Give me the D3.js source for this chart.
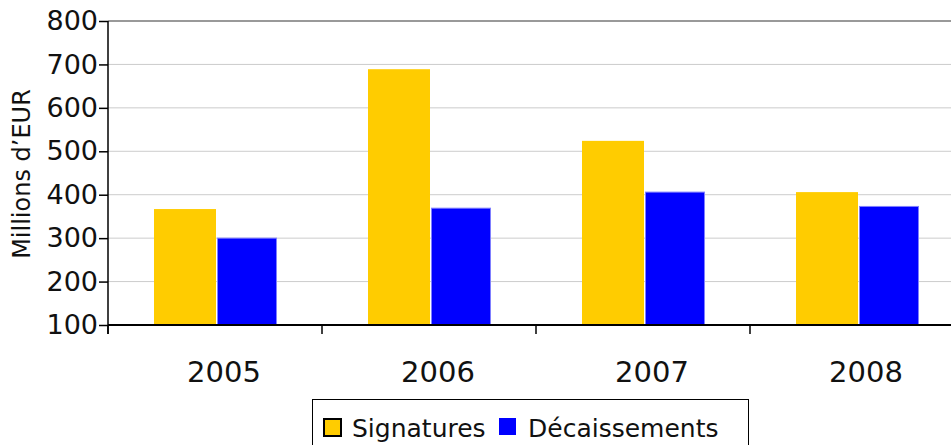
<!DOCTYPE html>
<html><head><meta charset="utf-8">
<script src="https://cdn.jsdelivr.net/npm/d3@7/dist/d3.min.js"></script>
<style>body{margin:0;background:#fff;}svg{display:block;font-family:"DejaVu Sans",sans-serif;}</style>
</head><body>
<svg id="c" width="951" height="445"></svg>
<script>
const years = ["2005","2006","2007","2008"];
const seriesNames = ["Signatures","Décaissements"];
const signatures = [367, 689, 524, 406];
const decaissements = [300, 369, 406, 373];
const yTicks = [100,200,300,400,500,600,700,800];
const colors = ["#FFCC00","#0000FF"];

const svg = d3.select("#c");
const pLeft=108, pRight=964, pTop=21, pBottom=325;
const y = d3.scaleLinear().domain([100,800]).range([pBottom, pTop]);
const x0 = d3.scaleBand().domain(years).range([pLeft,pRight]).padding(0);
const x1 = d3.scaleBand().domain(seriesNames).range([46,170]).padding(0);

// gridlines
svg.append("g").selectAll("line").data(yTicks.filter(d=>d>100)).join("line")
  .attr("x1",pLeft).attr("x2",pRight).attr("y1",d=>y(d)).attr("y2",d=>y(d))
  .attr("stroke",d=>d===800?"#999":"#cccccc").attr("stroke-width",d=>d===800?2:1);

const data = years.map((yr,i)=>({yr, vals:[signatures[i], decaissements[i]]}));
const g = svg.append("g").selectAll("g").data(data).join("g")
  .attr("transform",d=>`translate(${x0(d.yr)},0)`);
g.selectAll("rect").data(d=>d.vals.map((v,j)=>({v,j}))).join("rect")
  .attr("x",d=>x1(seriesNames[d.j]) + (d.j===1?1.5:0))
  .attr("width",d=>x1.bandwidth() - (d.j===1?3:0))
  .attr("y",d=>y(d.v))
  .attr("height",d=>pBottom - y(d.v))
  .attr("fill",d=>colors[d.j])
  .attr("stroke",d=>d.j===1?"#7f7fff":"none")
  .attr("stroke-width",1);

// y axis
const ya = svg.append("g").attr("transform",`translate(${pLeft},0)`)
  .call(d3.axisLeft(y).tickValues(yTicks).tickSize(9).tickPadding(1));
ya.select(".domain").remove();
ya.selectAll("line").attr("stroke","#000").attr("stroke-width",1.5);
ya.selectAll("text").attr("font-size",27).attr("font-family","DejaVu Sans").attr("fill","#111");
svg.append("line").attr("x1",pLeft).attr("x2",pLeft).attr("y1",pTop).attr("y2",pBottom+9)
  .attr("stroke","#000").attr("stroke-width",1.5);

// x axis
const xa = svg.append("g").attr("transform",`translate(0,${pBottom})`)
  .call(d3.axisBottom(x0).tickSize(0).tickPadding(0));
xa.select(".domain").remove();
xa.selectAll("text").attr("font-size",29).attr("font-family","DejaVu Sans").attr("fill","#111")
  .attr("dx",9).attr("dy",0).attr("y",57);
svg.append("line").attr("x1",pLeft).attr("x2",pRight).attr("y1",pBottom).attr("y2",pBottom)
  .attr("stroke","#000").attr("stroke-width",2);
svg.append("g").selectAll("line").data(years).join("line")
  .attr("x1",d=>x0(d)).attr("x2",d=>x0(d)).attr("y1",pBottom).attr("y2",pBottom+9)
  .attr("stroke","#000").attr("stroke-width",1.5);

// y label
svg.append("text").attr("transform","translate(30,174) rotate(-90)")
  .attr("text-anchor","middle").attr("font-size",24).attr("fill","#111")
  .text("Millions d\u2019EUR");

// legend
svg.append("rect").attr("x",312.5).attr("y",399.5).attr("width",436).attr("height",60)
  .attr("fill","#fff").attr("stroke","#000").attr("stroke-width",1);
svg.append("rect").attr("x",324).attr("y",419).attr("width",17).attr("height",17)
  .attr("fill",colors[0]).attr("stroke","#000").attr("stroke-width",2);
svg.append("rect").attr("x",499).attr("y",418).attr("width",17).attr("height",17)
  .attr("fill",colors[1]);
svg.append("text").attr("x",352).attr("y",437).attr("font-size",25).attr("fill","#111").text(seriesNames[0]);
svg.append("text").attr("x",528).attr("y",437).attr("font-size",25).attr("fill","#111").text(seriesNames[1]);
</script>
</body></html>
